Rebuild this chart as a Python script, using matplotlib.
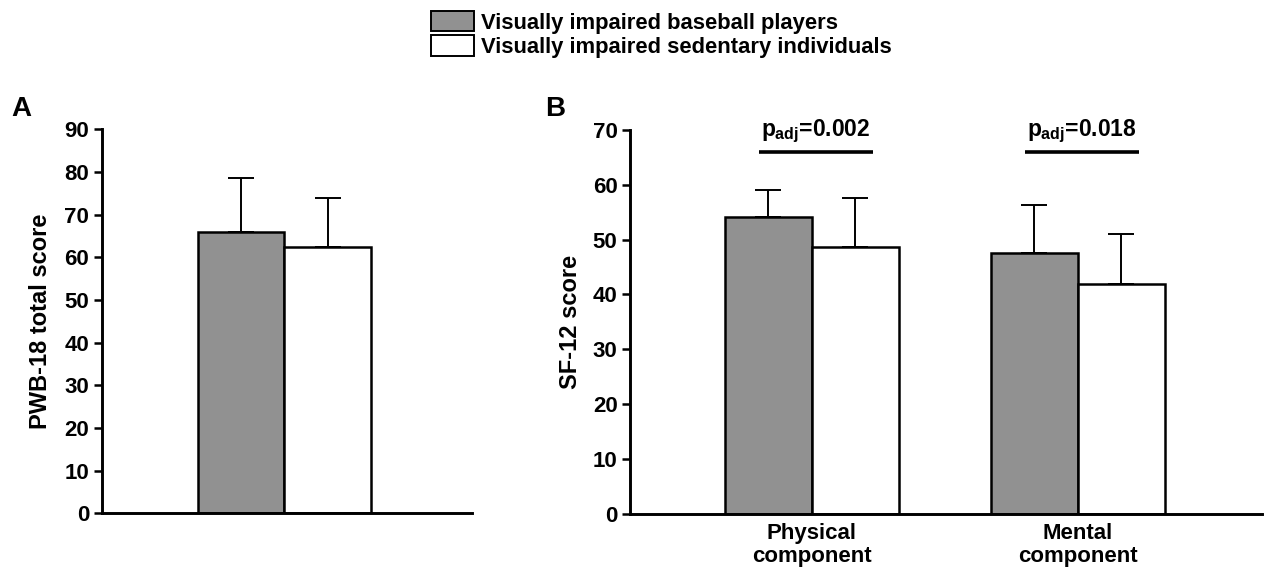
import matplotlib
matplotlib.use("Agg")
import matplotlib.pyplot as plt
from matplotlib.patches import Patch

plt.rcParams["font.family"] = ["Liberation Sans", "DejaVu Sans"]
plt.rcParams["font.weight"] = "bold"
plt.rcParams["mathtext.fontset"] = "custom"
plt.rcParams["mathtext.rm"] = "Liberation Sans:bold"
plt.rcParams["mathtext.it"] = "Liberation Sans:bold"
plt.rcParams["mathtext.bf"] = "Liberation Sans:bold"

# ── Data ────────────────────────────────────────────────────────────────────
groups = ["Visually impaired baseball players", "Visually impaired sedentary individuals"]
colors = ["#919191", "white"]

# Panel A: PWB-18 total score
pwb_mean = [66.0, 62.3]
pwb_sd = [12.7, 11.7]

# Panel B: SF-12 components
sf_categories = ["Physical\ncomponent", "Mental\ncomponent"]
sf_mean_players = [54.1, 47.5]
sf_sd_players = [4.9, 8.9]
sf_mean_sedentary = [48.6, 41.8]
sf_sd_sedentary = [9.0, 9.3]
p_labels = ["0.002", "0.018"]
sig_y = 66.0

W, H = 1267, 573
fig = plt.figure(figsize=(W / 100, H / 100), dpi=100)

bar_kw = dict(edgecolor="black", linewidth=1.8, zorder=2)
err_kw = dict(fmt="none", ecolor="black", elinewidth=1.4, capsize=9.5, capthick=1.4, zorder=1)


def style_axis(ax):
    for s in ["top", "right"]:
        ax.spines[s].set_visible(False)
    for s in ["left", "bottom"]:
        ax.spines[s].set_linewidth(2.1)
    ax.tick_params(axis="y", direction="out", length=6, width=1.8, labelsize=16, pad=3)
    ax.tick_params(axis="x", length=0)


# ── A ───────────────────────────────────────────────────────────────────────
axA = fig.add_axes([101.5 / W, 1 - 513.3 / H, 370 / W, 384 / H])
xa = [-0.5, 0.5]
for x, m, sd, c in zip(xa, pwb_mean, pwb_sd, colors):
    axA.bar(x, m, width=1.0, color=c, **bar_kw)
    axA.errorbar(x, m, yerr=[[0], [sd]], **err_kw)
axA.set_xlim(-2.116, 2.164)
axA.set_ylim(0, 90)
axA.set_yticks(range(0, 91, 10))
axA.set_xticks([])
style_axis(axA)
axA.set_ylabel("PWB-18 total score", fontsize=17, fontweight="bold", labelpad=9)
fig.text(11 / W, 1 - 116 / H, "A", fontsize=20, fontweight="bold")

# ── B ───────────────────────────────────────────────────────────────────────
axB = fig.add_axes([630 / W, 1 - 513.5 / H, 632 / W, 383.5 / H])
bw = 0.327
xb = list(range(len(sf_categories)))
axB.bar([x - bw / 2 for x in xb], sf_mean_players, width=bw, color=colors[0], **bar_kw)
axB.bar([x + bw / 2 for x in xb], sf_mean_sedentary, width=bw, color=colors[1], **bar_kw)
axB.errorbar([x - bw / 2 for x in xb], sf_mean_players,
             yerr=[[0] * len(xb), sf_sd_players], **err_kw)
axB.errorbar([x + bw / 2 for x in xb], sf_mean_sedentary,
             yerr=[[0] * len(xb), sf_sd_sedentary], **err_kw)
for x, p in zip(xb, p_labels):
    axB.plot([x - 0.2, x + 0.228], [sig_y, sig_y], color="black", lw=2.6, solid_capstyle="butt", clip_on=False)
    axB.text(x + 0.015, sig_y + 2.8, r"$p_{adj}$=" + p, ha="center", va="baseline",
             fontsize=16.5, fontweight="bold")
axB.set_xlim(-0.684, 1.692)
axB.set_ylim(0, 70)
axB.set_yticks(range(0, 71, 10))
axB.set_xticks(xb)
axB.set_xticklabels(sf_categories, fontsize=16, fontweight="bold", linespacing=1.1)
style_axis(axB)
axB.tick_params(axis="x", pad=7)
axB.set_ylabel("SF-12 score", fontsize=17, fontweight="bold", labelpad=8)
fig.text(545 / W, 1 - 116 / H, "B", fontsize=20, fontweight="bold")

# ── Legend ──────────────────────────────────────────────────────────────────
handles = [Patch(facecolor=c, edgecolor="black", linewidth=1.4) for c in colors]
fig.legend(handles, groups, loc="upper left", bbox_to_anchor=(431 / W, 1 - 11 / H),
           frameon=False, prop={"size": 15.8, "weight": "bold"},
           handlelength=1.95, handleheight=1.05, handletextpad=0.35,
           labelspacing=0.08, borderpad=0, borderaxespad=0)

plt.savefig("out.png", dpi=100)
plt.close()
